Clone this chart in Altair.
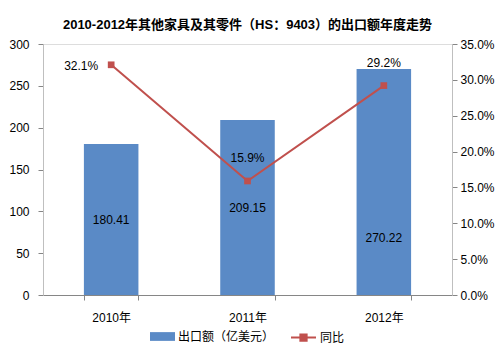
import altair as alt
import pandas as pd

years = ["2010年", "2011年", "2012年"]
exports = [180.41, 209.15, 270.22]
growth = [0.321, 0.159, 0.292]
growth_labels = ["32.1%", "15.9%", "29.2%"]
left_ticks = [0, 50, 100, 150, 200, 250, 300]
right_ticks = [0, 0.05, 0.10, 0.15, 0.20, 0.25, 0.30, 0.35]

df = pd.DataFrame({"year": years, "exports": exports, "growth": growth, "glabel": growth_labels})

FONT = "Liberation Sans, Arial, Noto Sans CJK SC"
BLUE = "#5A8AC6"
RED = "#C0504D"

x = alt.X("year:N", sort=years, title=None,
          scale=alt.Scale(paddingInner=0.6, paddingOuter=0.3),
          axis=alt.Axis(labelAngle=0, domainColor="#868686", tickColor="#868686",
                        tickBand="extent", tickSize=5, labelPadding=12,
                        labelFontSize=12, labelColor="#000000", labelFont=FONT))

left_axis = alt.Axis(values=left_ticks, title=None, grid=False, domainColor="#BFBFBF",
                     tickColor="#868686", tickSize=5, labelPadding=9, labelFontSize=12,
                     labelColor="#000000", labelFont=FONT)
right_axis = alt.Axis(values=right_ticks, format=".1%", title=None, grid=False, orient="right",
                      domainColor="#BFBFBF", tickColor="#868686", tickSize=5, labelPadding=3,
                      labelFontSize=12, labelColor="#000000", labelFont=FONT)
yl_scale = alt.Scale(domain=[0, 300])
yr_scale = alt.Scale(domain=[0, 0.35])

base = alt.Chart(df)

bars = base.transform_calculate(series="'出口额（亿美元）'").mark_bar().encode(
    x=x,
    y=alt.Y("exports:Q", scale=yl_scale, axis=left_axis),
    fill=alt.Fill("series:N", scale=alt.Scale(range=[BLUE]),
                  legend=alt.Legend(title=None, orient="none", legendX=107, legendY=280,
                                    symbolType="M-1,-0.35H1V0.35H-1Z", symbolSize=625,
                                    symbolStrokeWidth=0, labelFontSize=12, labelFont=FONT,
                                    labelColor="#000000", padding=0, labelOffset=3)),
)

bar_text = base.transform_filter("datum.year != '2012年'").transform_calculate(
    mid="datum.exports / 2").mark_text(fontSize=12, font=FONT, color="#000000").encode(
    x=x, y=alt.Y("mid:Q", scale=yl_scale, axis=left_axis), text=alt.Text("exports:Q", format=".2f"))

bar_text2 = base.transform_filter("datum.year == '2012年'").transform_calculate(
    mid="datum.exports / 2").mark_text(fontSize=12, font=FONT, color="#000000", dy=56).encode(
    x=x, y=alt.Y("mid:Q", scale=yl_scale, axis=left_axis), text=alt.Text("exports:Q", format=".2f"))

left = alt.layer(bars, bar_text, bar_text2)

line = base.transform_calculate(series="'同比'").mark_line(strokeWidth=2).encode(
    x=x,
    y=alt.Y("growth:Q", scale=yr_scale, axis=right_axis),
    stroke=alt.Stroke("series:N", scale=alt.Scale(range=[RED]),
                      legend=alt.Legend(title=None, orient="none", legendX=247, legendY=280,
                                        symbolType="M-1,0H1M-0.25,-0.25H0.25V0.25H-0.25Z",
                                        symbolSize=625, symbolStrokeWidth=2,
                                        symbolFillColor=RED, labelFontSize=12, labelFont=FONT,
                                        labelColor="#000000", padding=0, labelOffset=3)),
)
points = base.mark_point(shape="square", filled=True, size=45, color=RED, opacity=1).encode(
    x=x, y=alt.Y("growth:Q", scale=yr_scale, axis=right_axis))

ptext1 = base.transform_filter("datum.year == '2010年'").mark_text(
    fontSize=12, font=FONT, color="#000000", dx=-30, dy=1).encode(
    x=x, y=alt.Y("growth:Q", scale=yr_scale, axis=right_axis), text="glabel:N")
ptext2 = base.transform_filter("datum.year != '2010年'").mark_text(
    fontSize=12, font=FONT, color="#000000", dy=-23).encode(
    x=x, y=alt.Y("growth:Q", scale=yr_scale, axis=right_axis), text="glabel:N")

right = alt.layer(line, points, ptext1, ptext2)

chart = alt.layer(left, right).resolve_scale(y="independent", fill="independent", stroke="independent").properties(
    width=409, height=251,
    title=alt.TitleParams("2010-2012年其他家具及其零件（HS：9403）的出口额年度走势",
                          fontSize=13, fontWeight="bold", font=FONT, color="#000000",
                          anchor="middle", offset=6),
    autosize=alt.AutoSizeParams(type="none"),
    padding={"left": 43, "top": 44, "right": 49, "bottom": 59},
).configure_view(stroke=None).configure(background="white")

chart.save("out.html", embed_options={"renderer": "svg", "actions": False})
